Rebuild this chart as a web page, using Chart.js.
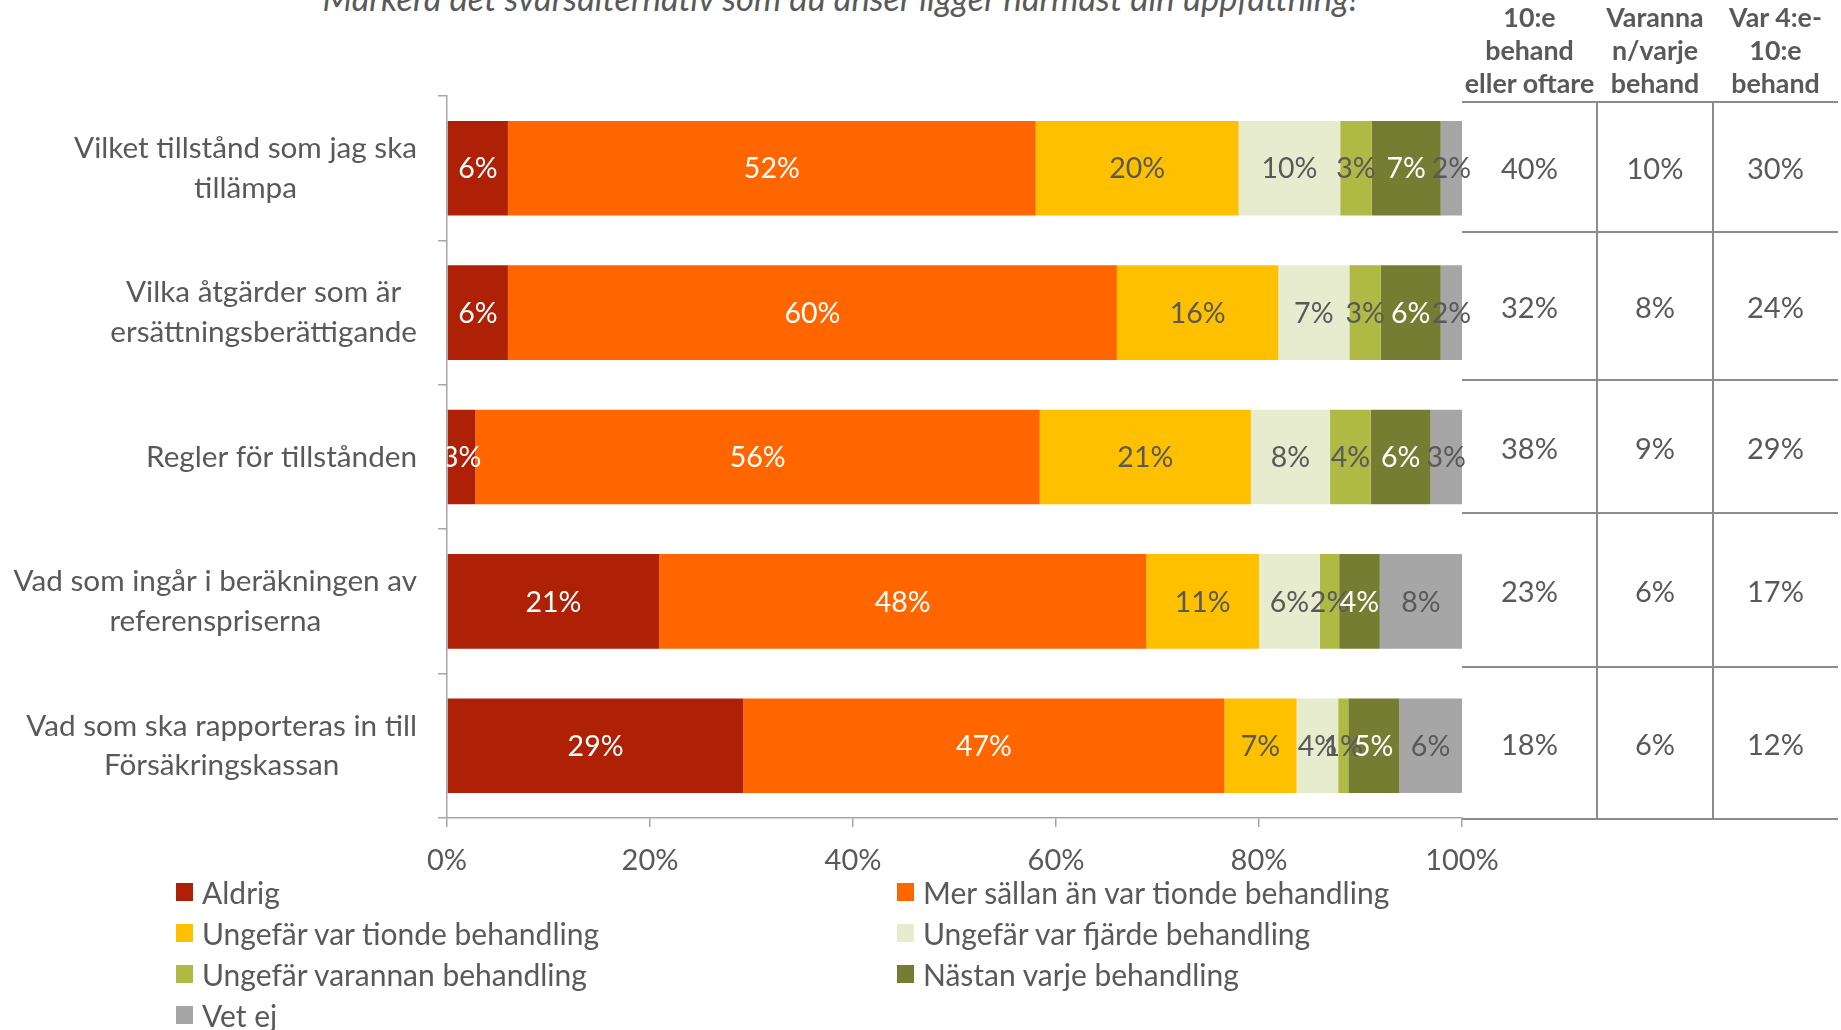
<!DOCTYPE html>
<html>
<head>
<meta charset="utf-8">
<script src="https://cdn.jsdelivr.net/npm/chart.js@4.4.0/dist/chart.umd.min.js"></script>
<style>
  html, body { margin: 0; padding: 0; background: #fff; }
  body { width: 1841px; height: 1030px; position: relative; overflow: hidden; font-family: Lato, sans-serif; color: #595959; }
  #wrap { position: absolute; left: 0; top: 0; width: 1841px; height: 1030px; }
  .title { position: absolute; left: 0; width: 1680px; top: -22px; text-align: center; font-style: italic; font-size: 34.5px; line-height: 40px; white-space: nowrap; }
  .legend { position: absolute; left: 176px; top: 871px; display: grid; grid-template-columns: 721px auto; grid-auto-rows: 41px; }
  .legend div { display: flex; align-items: center; font-size: 30px; white-space: nowrap; }
  .legend span.box { width: 17px; height: 18px; margin-right: 9px; display: inline-block; }
  .tline { position: absolute; background: #8c8c8c; }
  .thead { position: absolute; text-align: center; font-weight: bold; font-size: 26.8px; line-height: 33px; top: 1px; }
  .tcell { position: absolute; text-align: center; font-size: 29px; transform: translateY(-50%); }
</style>
</head>
<body>
<div class="title">Markera det svarsalternativ som du anser ligger närmast din uppfattning!</div>
<div id="wrap"><canvas id="chart"></canvas></div>
<div class="legend" id="legend"></div>
<div id="table"></div>
<script>
'use strict'

// categories (y axis), one array per line of text
var categories = [
  ['Vilket tillstånd som jag ska', 'tillämpa'],
  ['Vilka åtgärder som är', 'ersättningsberättigande'],
  ['Regler för tillstånden'],
  ['Vad som ingår i beräkningen av', 'referenspriserna'],
  ['Vad som ska rapporteras in till', 'Försäkringskassan']
]

// series values, percent
var aldrig = [6, 6, 2.8, 20.9, 29.2]
var merSallan = [52, 60, 55.6, 48, 47.4]
var ungefarTionde = [20, 15.9, 20.8, 11.1, 7.1]
var ungefarFjarde = [10, 7, 7.8, 6, 4.1]
var ungefarVarannan = [3.1, 3.1, 4, 1.9, 1]
var nastanVarje = [6.8, 5.9, 5.9, 4, 5]
var vetEj = [2.1, 2.1, 3.1, 8.1, 6.2]

var seriesNames = ['Aldrig', 'Mer sällan än var tionde behandling', 'Ungefär var tionde behandling',
  'Ungefär var fjärde behandling', 'Ungefär varannan behandling', 'Nästan varje behandling', 'Vet ej']
var seriesColors = ['#ae2106', '#ff6600', '#ffc000', '#e8ecce', '#afba45', '#747d32', '#a6a6a6']
var labelColors = ['#fff', '#fff', '#595959', '#595959', '#595959', '#fff', '#595959']

// x axis ticks
var xTicks = [0, 20, 40, 60, 80, 100]

// side table
var tableHeaders = [['10:e', 'behand', 'eller oftare'], ['Varanna', 'n/varje', 'behand'], ['Var 4:e-', '10:e', 'behand']]
var tiondeEllerOftare = [40, 32, 38, 23, 18]
var varannanVarje = [10, 8, 9, 6, 6]
var fjardeTillTionde = [30, 24, 29, 17, 12]

var textColor = '#595959'
var axisColor = '#a6a6a6'

var categoryLabels = {
  id: 'categoryLabels',
  afterDraw: function (chart) {
    var ctx = chart.ctx
    var scale = chart.scales.y
    ctx.save()
    ctx.font = '29.7px Lato'
    ctx.fillStyle = textColor
    ctx.textAlign = 'center'
    ctx.textBaseline = 'middle'
    categories.forEach(function (lines, i) {
      var w = Math.max.apply(null, lines.map(function (l) { return ctx.measureText(l).width }))
      var cx = scale.right - 30 - w / 2
      var cy = scale.getPixelForTick(i)
      lines.forEach(function (l, k) {
        ctx.fillText(l, cx, cy + (k - (lines.length - 1) / 2) * 39.5)
      })
    })
    ctx.restore()
  }
}

var barLabels = {
  id: 'barLabels',
  afterDatasetsDraw: function (chart) {
    var ctx = chart.ctx
    var area = chart.chartArea
    ctx.save()
    ctx.beginPath()
    ctx.rect(area.left, 0, chart.width - area.left, chart.height)
    ctx.clip()
    ctx.font = '28.5px Lato'
    ctx.textAlign = 'center'
    ctx.textBaseline = 'middle'
    chart.data.datasets.forEach(function (ds, di) {
      ctx.fillStyle = labelColors[di]
      chart.getDatasetMeta(di).data.forEach(function (bar, i) {
        ctx.fillText(Math.round(ds.data[i]) + '%', (bar.x + bar.base) / 2, bar.y + 1)
      })
    })
    ctx.restore()
  }
}

var series = [aldrig, merSallan, ungefarTionde, ungefarFjarde, ungefarVarannan, nastanVarje, vetEj]

new Chart(document.getElementById('chart'), {
  type: 'bar',
  data: {
    labels: categories.map(function (c) { return c.join(' ') }),
    datasets: series.map(function (values, i) {
      return {
        label: seriesNames[i],
        data: values,
        backgroundColor: seriesColors[i],
        borderWidth: 0,
        categoryPercentage: 1,
        barPercentage: 0.655
      }
    })
  },
  options: {
    indexAxis: 'y',
    responsive: true,
    maintainAspectRatio: false,
    animation: false,
    layout: { padding: { top: 96, right: 379, left: 0, bottom: 0 } },
    plugins: { legend: { display: false }, tooltip: { enabled: false } },
    scales: {
      x: {
        stacked: true,
        min: 0,
        max: 100,
        afterBuildTicks: function (s) { s.ticks = xTicks.map(function (v) { return { value: v } }) },
        ticks: {
          callback: function (v) { return v + '%' },
          font: { family: 'Lato', size: 29 },
          color: textColor,
          padding: 16,
          maxRotation: 0
        },
        grid: { drawOnChartArea: false, tickLength: 9, color: axisColor, lineWidth: 1.5 },
        border: { color: axisColor, width: 1.5 },
        afterFit: function (s) { s.height = 212 }
      },
      y: {
        stacked: true,
        ticks: { display: false },
        grid: { drawOnChartArea: false, tickLength: 9, color: axisColor, lineWidth: 1.5, offset: true },
        border: { color: axisColor, width: 1.5 },
        afterFit: function (s) { s.width = 447 }
      }
    }
  },
  plugins: [categoryLabels, barLabels]
})

// legend, two columns
var legend = document.getElementById('legend')
seriesNames.forEach(function (name, i) {
  var item = document.createElement('div')
  item.innerHTML = '<span class="box" style="background:' + seriesColors[i] + '"></span>' + name
  legend.appendChild(item)
})

// side table
var table = document.getElementById('table')
var colEdges = [1462, 1597, 1713, 1838]
var rowEdges = [102, 232, 380, 513, 667, 819]
var cols = [tiondeEllerOftare, varannanVarje, fjardeTillTionde]
var html = ''
rowEdges.forEach(function (y) {
  html += '<div class="tline" style="left:' + colEdges[0] + 'px;top:' + (y - 1) + 'px;width:' + (colEdges[3] - colEdges[0]) + 'px;height:2px"></div>'
})
;[1, 2].forEach(function (c) {
  html += '<div class="tline" style="left:' + (colEdges[c] - 1) + 'px;top:' + rowEdges[0] + 'px;width:2px;height:' + (rowEdges[5] - rowEdges[0]) + 'px"></div>'
})
tableHeaders.forEach(function (lines, c) {
  html += '<div class="thead" style="left:' + colEdges[c] + 'px;width:' + (colEdges[c + 1] - colEdges[c]) + 'px">' + lines.join('<br>') + '</div>'
  cols[c].forEach(function (v, r) {
    var cy = (rowEdges[r] + rowEdges[r + 1]) / 2
    html += '<div class="tcell" style="left:' + colEdges[c] + 'px;width:' + (colEdges[c + 1] - colEdges[c]) + 'px;top:' + cy + 'px">' + v + '%</div>'
  })
})
table.innerHTML = html
</script>
</body>
</html>
